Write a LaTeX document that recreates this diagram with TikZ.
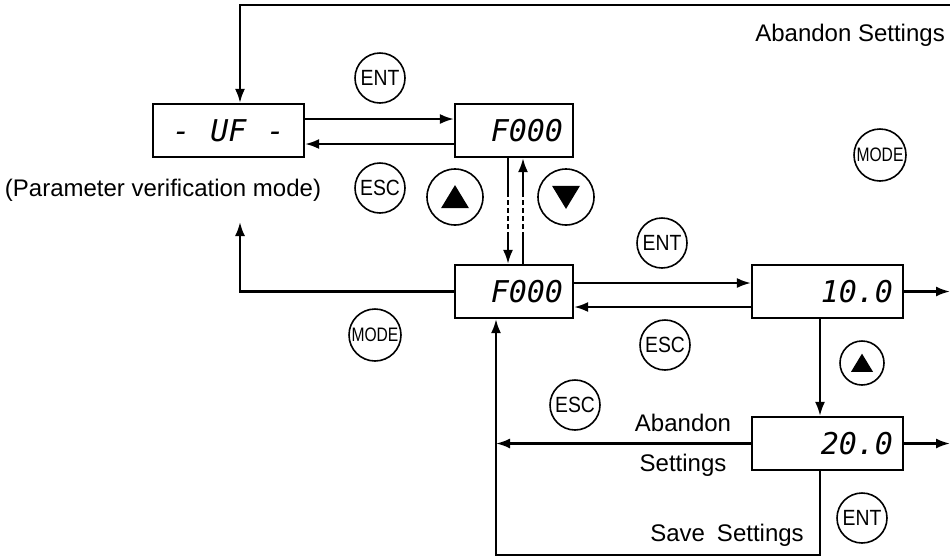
\documentclass[tikz,border=0pt]{standalone}
\usepackage{fontspec}
\setmainfont{Liberation Sans}
\newfontfamily\segfont{DejaVu Sans Mono}
\newfontfamily\btnfont{Liberation Sans}[FakeStretch=0.88]
\newfontfamily\modefont{Liberation Sans}[FakeStretch=0.8]
\usetikzlibrary{arrows.meta, calc}
\tikzset{
	dispbox/.style={
			draw=black,
			line width=2.2pt,
			minimum height=53pt,
			inner xsep=10pt,
			inner ysep=0pt,
			font=\segfont\itshape\fontsize{30}{30}\selectfont
		},
	button/.style={
			circle,
			draw=black,
			line width=1.6pt,
			minimum size=50pt,
			inner sep=0pt,
			font=\btnfont\fontsize{22}{22}\selectfont
		},
	modebutton/.style={
			button,
			minimum size=52pt,
			font=\modefont\fontsize{19.5}{19.5}\selectfont
		},
	upbutton/.style={
			button,
			path picture={
				\fill[black] ([yshift=0.85*#1]path picture bounding box.center)
					-- ([xshift=-#1,yshift=-0.8*#1]path picture bounding box.center)
					-- ([xshift=#1,yshift=-0.8*#1]path picture bounding box.center) -- cycle;
			}
		},
	downbutton/.style={
			button,
			path picture={
				\fill[black] ([yshift=-0.85*#1]path picture bounding box.center)
					-- ([xshift=-#1,yshift=0.8*#1]path picture bounding box.center)
					-- ([xshift=#1,yshift=0.8*#1]path picture bounding box.center) -- cycle;
			}
		},
	lbl/.style={
			inner sep=0pt,
			font=\fontsize{24}{28}\selectfont
		},
	ln/.style={
			line width=2.2pt
		},
	arr/.style={
			ln,
			-{Latex[length=14pt,width=10pt]}
		}
}

\begin{document}
\begin{tikzpicture}[x=1pt, y=-1pt]
\useasboundingbox (0,0) rectangle (950,558);

\node[dispbox, text width=131pt, align=center] (uf) at (228.5,130.5) {-~~UF~~-};
\node[dispbox, text width=98pt, align=right] (ftop) at (514,130.5) {F000};
\node[dispbox, text width=98pt, align=right] (fmid) at (514,291.5) {F000};
\node[dispbox, text width=131pt, align=right] (val1) at (827.5,291.5) {10.0};
\node[dispbox, text width=131pt, align=right] (val2) at (827.5,443.5) {20.0};

\node[button] (entA) at (380,78) {ENT};
\node[button] (escA) at (380,188) {ESC};
\node[upbutton=14pt, minimum size=56pt] (upA) at (455,197) {};
\node[downbutton=14pt, minimum size=56pt] (downA) at (566,197) {};
\node[modebutton] (modeA) at (375,335) {MODE};
\node[button] (entB) at (662,243) {ENT};
\node[button] (escB) at (665,345) {ESC};
\node[upbutton=11pt, minimum size=44pt] (upB) at (862,363) {};
\node[button] (escC) at (575,405) {ESC};
\node[button] (entC) at (862,518) {ENT};
\node[modebutton] (modeB) at (880,155) {MODE};

\node[lbl, anchor=east] (abtop) at (945,35) {Abandon Settings};
\node[lbl] (pvm) at (163,190) {(Parameter verification mode)};
\node[lbl] (ab1) at (683,423) {Abandon};
\node[lbl] (ab2) at (683,465) {Settings};
\node[lbl] (save) at (727,535) {Save\hspace{0.5em}Settings};

\coordinate (tr) at (950,5);
\coordinate (tl) at (240,5);
\draw[arr] (tr) -- (tl) -- (tl |- uf.north);

\draw[arr] ([yshift=11.5pt]uf.east) -- ([yshift=11.5pt]uf.east -| ftop.west);
\draw[arr] ([yshift=-13.5pt]ftop.west) -- ([yshift=-13.5pt]ftop.west -| uf.east);

\coordinate (d1) at ([xshift=-6pt]ftop.south);
\coordinate (d2) at (508,192);
\coordinate (d3) at (508,237);
\draw[ln] (d1) -- (d2);
\draw[ln, dash pattern=on 5pt off 3pt] (d2) -- (d3);
\draw[arr] (d3) -- (d3 |- fmid.north);

\coordinate (u1) at ([xshift=9pt]fmid.north);
\coordinate (u2) at (523,237);
\coordinate (u3) at (523,192);
\draw[ln] (u1) -- (u2);
\draw[ln, dash pattern=on 5pt off 3pt] (u2) -- (u3);
\draw[arr] (u3) -- (u3 |- ftop.south);

\coordinate (pv) at (240,222);
\draw[arr] (fmid.west) -| (pv);

\draw[arr] ([yshift=8.5pt]fmid.east) -- ([yshift=8.5pt]fmid.east -| val1.west);
\draw[arr] ([yshift=-15.5pt]val1.west) -- ([yshift=-15.5pt]val1.west -| fmid.east);

\coordinate (o1) at (950,291.5);
\draw[arr] (val1.east) -- (o1);
\draw[arr] ([xshift=-7.5pt]val1.south) -- ([xshift=-7.5pt]val2.north);
\coordinate (o2) at (950,443.5);
\draw[arr] (val2.east) -- (o2);

\coordinate (ab) at (496,443.5);
\draw[arr] (val2.west) -- (ab);

\coordinate (s2) at (496,555);
\draw[arr] ([xshift=-7.5pt]val2.south) |- (s2) -- (s2 |- fmid.south);

\end{tikzpicture}
\end{document}
